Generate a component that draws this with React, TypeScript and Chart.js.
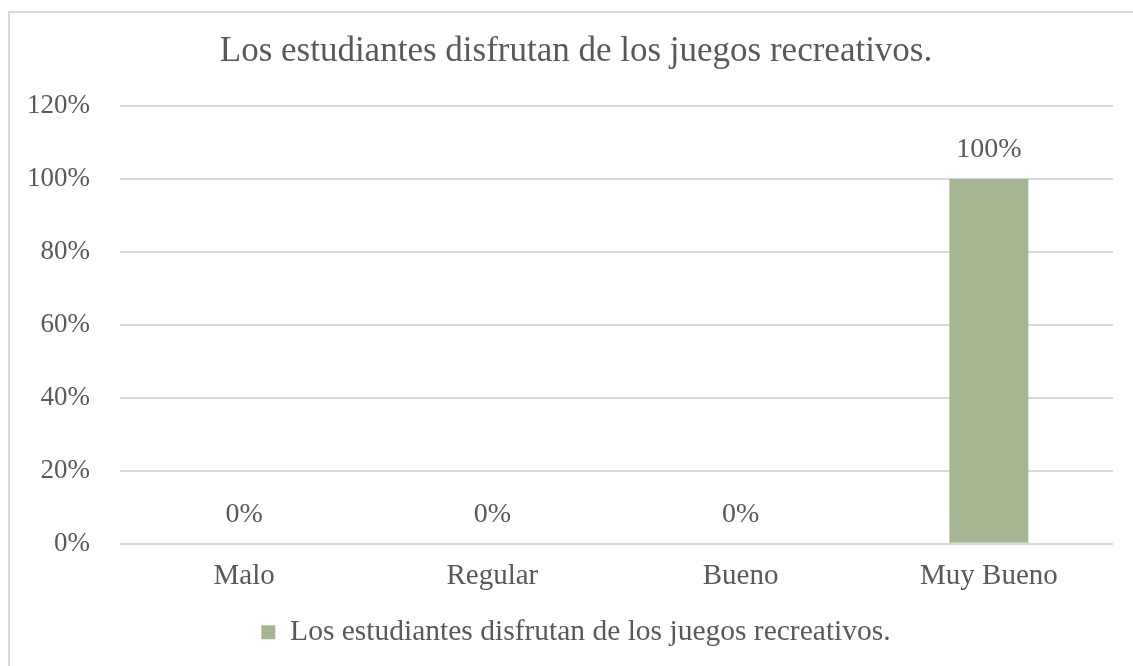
import React, { useEffect, useRef } from "react";
import { Chart, registerables } from "chart.js";

Chart.register(...registerables);

const categories = ["Malo", "Regular", "Bueno", "Muy Bueno"];
const seriesName = "Los estudiantes disfrutan de los juegos recreativos.";
const values = [0, 0, 0, 100];
const chartTitle = "Los estudiantes disfrutan de los juegos recreativos.";
const yMax = 120;
const yStep = 20;

const FONT = "'Liberation Serif', 'Times New Roman', serif";
const TEXT = "#595959";
const GRID = "#d9d9d9";
const BAR = "#a5b592";

const dataLabels = {
  id: "dataLabels",
  afterDatasetsDraw(chart: any) {
    const ctx = chart.ctx;
    ctx.save();
    ctx.font = `28px ${FONT}`;
    ctx.fillStyle = TEXT;
    ctx.textAlign = "center";
    ctx.textBaseline = "middle";
    chart.data.datasets.forEach((ds: any, i: number) => {
      const meta = chart.getDatasetMeta(i);
      meta.data.forEach((bar: any, j: number) => {
        ctx.fillText(`${ds.data[j]}%`, bar.x, bar.y - 29);
      });
    });
    ctx.restore();
  },
};

export default function App() {
  const ref = useRef<HTMLCanvasElement>(null);
  useEffect(() => {
    document.body.style.overflow = "hidden";
    const chart = new Chart(ref.current!, {
      type: "bar",
      data: {
        labels: categories,
        datasets: [
          {
            label: seriesName,
            data: values,
            backgroundColor: BAR,
            borderWidth: 0,
            barPercentage: 0.318,
            categoryPercentage: 1,
          },
        ],
      },
      options: {
        responsive: false,
        animation: false,
        layout: { padding: { left: 39, right: 20, top: 0, bottom: 9 } },
        plugins: {
          title: {
            display: true,
            text: chartTitle,
            color: TEXT,
            font: { family: FONT, size: 35, weight: "normal" },
            padding: { top: 31, bottom: 33 },
          },
          legend: {
            position: "bottom",
            labels: {
              color: TEXT,
              font: { family: FONT, size: 29.5 },
              boxWidth: 14,
              boxHeight: 14,
              padding: 9,
            },
          },
          tooltip: { enabled: false },
        },
        scales: {
          x: {
            grid: { display: false, drawTicks: false },
            border: { display: false },
            ticks: { color: TEXT, font: { family: FONT, size: 29 }, padding: 15 },
          },
          y: {
            min: 0,
            max: yMax,
            afterFit: (scale: any) => {
              scale.width = 81;
              // let tick labels extend left of the scale box without clipping
              scale._computeLabelArea = () => undefined;
            },
            grid: { color: GRID, lineWidth: 2, drawTicks: false },
            border: { display: false },
            ticks: {
              stepSize: yStep,
              color: TEXT,
              font: { family: FONT, size: 27 },
              padding: 30,
              callback: (v: any) => `${v}%`,
            },
          },
        },
      },
      plugins: [dataLabels],
    });
    return () => chart.destroy();
  }, []);
  return (
    <div style={{ position: "absolute", left: 0, top: 0, width: 1133, height: 666, overflow: "hidden", background: "#fff" }}>
      <div
        style={{
          position: "absolute",
          left: 8,
          top: 11,
          width: 1200,
          height: 700,
          border: `2px solid ${GRID}`,
          boxSizing: "border-box",
        }}
      />
      <canvas ref={ref} width={1133} height={666} style={{ position: "absolute", left: 0, top: 0 }} />
    </div>
  );
}
